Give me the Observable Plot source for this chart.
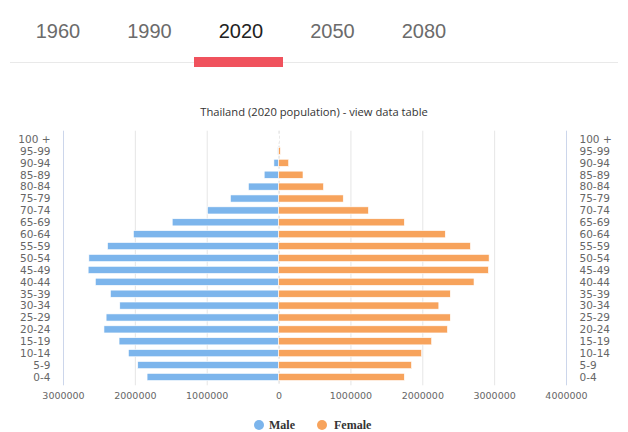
<!DOCTYPE html>
<html>
<head>
<meta charset="utf-8">
<script src="https://cdn.jsdelivr.net/npm/d3@7"></script>
<script src="https://cdn.jsdelivr.net/npm/@observablehq/plot@0.6"></script>
<style>
  html, body { margin: 0; padding: 0; background: #fff; }
  body { width: 628px; height: 432px; position: relative; overflow: hidden; font-family: "DejaVu Sans", sans-serif; }
  .tab { position: absolute; top: 20px; width: 80px; text-align: center; font-family: "Liberation Sans", Arial, sans-serif; font-size: 20px; color: #6b6b6b; }
  .tab.sel { color: #222; }
  #line { position: absolute; left: 10px; top: 62px; width: 608px; height: 1px; background: #e9e9e9; }
  #bar { position: absolute; left: 194px; top: 57px; width: 89px; height: 10px; background: #f0525d; }
  #title { position: absolute; top: 104px; left: 0; width: 628px; text-align: center; font-family: "Open Sans", sans-serif; font-size: 11.2px; color: #333; }
  #chart { position: absolute; top: 128px; left: 0; }
  #legend { position: absolute; top: 416px; left: 0; width: 628px; height: 18px; }
  .lg { position: absolute; top: 0; font-family: "Liberation Serif", serif; font-weight: bold; font-size: 12px; color: #333; line-height: 18px; }
  .dot { position: absolute; top: 4px; width: 10px; height: 10px; border-radius: 50%; }
</style>
</head>
<body>
<div id="line"></div>
<div id="bar"></div>
<div id="tabs"></div>
<div id="title">Thailand (2020 population) - view data table</div>
<div id="chart"></div>
<div id="legend">
  <div class="dot" style="left:254px;background:#7cb5ec"></div>
  <div class="lg" style="left:269px">Male</div>
  <div class="dot" style="left:317px;background:#f7a35c"></div>
  <div class="lg" style="left:334px">Female</div>
</div>
<script>
const years = ["1960", "1990", "2020", "2050", "2080"];
const selectedYear = "2020";
const ages = ["0-4","5-9","10-14","15-19","20-24","25-29","30-34","35-39","40-44","45-49","50-54","55-59","60-64","65-69","70-74","75-79","80-84","85-89","90-94","95-99","100 +"];
const male = [1830000,1960000,2090000,2220000,2430000,2400000,2210000,2340000,2550000,2650000,2640000,2380000,2020000,1480000,990000,670000,420000,200000,65000,12000,1000];
const female = [1750000,1850000,1990000,2130000,2350000,2390000,2230000,2390000,2720000,2920000,2930000,2670000,2320000,1750000,1250000,900000,625000,340000,140000,25000,2000];
const xTicks = [-3000000,-2000000,-1000000,0,1000000,2000000,3000000,4000000];
const series = ["Male", "Female"];
const colors = ["#7cb5ec", "#f7a35c"];

const tabs = document.getElementById("tabs");
years.forEach((y, i) => {
  const d = document.createElement("div");
  d.className = "tab" + (y === selectedYear ? " sel" : "");
  d.style.left = (18 + i * 91.5) + "px";
  d.textContent = y;
  tabs.appendChild(d);
});

const rows = ages.flatMap((a, i) => [
  {age: a, sex: "Male", value: -male[i]},
  {age: a, sex: "Female", value: female[i]}
]);

const chart = Plot.plot({
  width: 628,
  height: 285,
  marginLeft: 63,
  marginRight: 62,
  marginTop: 2.7,
  marginBottom: 27.7,
  x: {domain: [-3000000, 4000000]},
  y: {domain: ages.slice().reverse(), padding: 0.4, round: false},
  color: {domain: series, range: colors},
  style: {fontFamily: "DejaVu Sans, sans-serif", fontSize: "10px", color: "#666", background: "transparent"},
  marks: [
    Plot.ruleX(xTicks.filter(d => d !== 0 && d !== -3000000 && d !== 4000000), {stroke: "#e6e6e6"}),
    Plot.ruleX([0], {stroke: "#d8d8d8", strokeDasharray: "3,2"}),
    Plot.ruleX([-3000000, 4000000], {stroke: "#ccd6eb"}),
    Plot.barX(rows, {x1: 0, x2: "value", y: "age", fill: "sex", stroke: "white", strokeWidth: 0.6}),
    Plot.axisY({anchor: "left", tickSize: 0, tickPadding: 13, fontSize: 10.5, label: null}),
    Plot.axisY({anchor: "right", tickSize: 0, tickPadding: 13, fontSize: 10.5, label: null}),
    Plot.axisX({ticks: xTicks, tickSize: 0, tickPadding: 6, fontSize: 9.5, label: null, tickFormat: d => String(Math.abs(d))})
  ]
});
document.getElementById("chart").appendChild(chart);
</script>
</body>
</html>
